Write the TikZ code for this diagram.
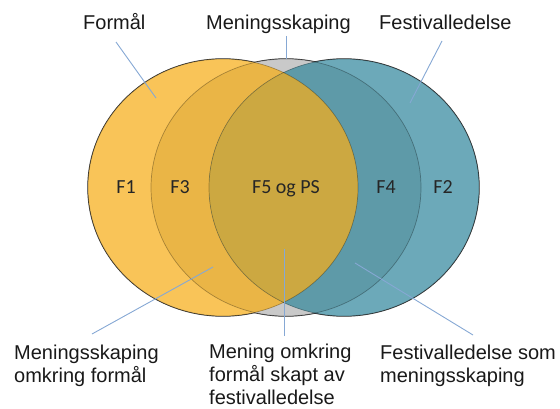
\documentclass[tikz,border=0pt]{standalone}
\usepackage{fontspec}
\setmainfont{Liberation Sans}
\newfontfamily\calfont{Carlito}
\definecolor{yel}{HTML}{F9C458}
\definecolor{fthree}{HTML}{EAB546}
\definecolor{ffive}{HTML}{CCA841}
\definecolor{ffour}{HTML}{5E9AA8}
\definecolor{tea}{HTML}{6CA9B9}
\definecolor{gry}{HTML}{C9C9C9}
\definecolor{leadc}{HTML}{86A8D4}
\begin{document}
\begin{tikzpicture}[x=1pt,y=1pt,
  lead/.style={draw=leadc, line width=0.9pt},
  lab/.style={font=\fontsize{20}{23}\selectfont, inner sep=0pt, anchor=base west, align=left, text=black!90},
  flab/.style={font=\calfont\fontsize{20}{24}\selectfont, inner sep=0pt, anchor=base, text=black!85}]
\useasboundingbox (0,0) rectangle (560,408);
\def\Ypath{(223,220.5) ellipse [x radius=135, y radius=128.5]}
\def\Gpath{(286,220.5) ellipse [x radius=135, y radius=128.5]}
\def\Tpath{(344,220.5) ellipse [x radius=135, y radius=128.5]}
% outer dark outline
\draw[black!80, line width=1.4pt] \Ypath;
\draw[black!80, line width=1.4pt] \Gpath;
\draw[black!80, line width=1.4pt] \Tpath;
% region fills
\fill[gry] \Gpath;
\fill[tea] \Tpath;
\fill[yel] \Ypath;
\begin{scope}
  \clip \Gpath;
  \fill[fthree] \Ypath;
  \fill[ffour] \Tpath;
\end{scope}
\begin{scope}
  \clip \Ypath;
  \fill[ffive] \Tpath;
\end{scope}
% inner outlines
\draw[black, opacity=0.3, line width=0.7pt] \Ypath;
\draw[black, opacity=0.3, line width=0.7pt] \Gpath;
\draw[black, opacity=0.3, line width=0.7pt] \Tpath;
% region labels
\node[flab] (f1) at (126,215) {F1};
\node[flab] (f3) at (180,215) {F3};
\node[flab] (f5) at (286,215) {F5 og PS};
\node[flab] (f4) at (386,215) {F4};
\node[flab] (f2) at (443,215) {F2};
% outside labels
\node[lab] (formal) at (83,378) {Formål};
\node[lab] (mening) at (206,378) {Meningsskaping};
\node[lab] (festival) at (379,378) {Festivalledelse};
\node[lab] (bl) at (14,26) {Meningsskaping\\omkring formål};
\node[lab] (bm) at (209,4) {Mening omkring\\formål skapt av\\festivalledelse};
\node[lab] (br) at (380,26) {Festivalledelse som\\meningsskaping};
% leader coordinates
\coordinate (formalA) at (116,366);
\coordinate (formalB) at (156,310);
\coordinate (meningA) at (286,372);
\coordinate (meningB) at (286,349);
\coordinate (festA) at (442,367);
\coordinate (festB) at (410,305);
\coordinate (blA) at (92,74);
\coordinate (blB) at (213,141);
\coordinate (bmA) at (284,72);
\coordinate (bmB) at (284,159);
\coordinate (brA) at (473,73);
\coordinate (brB) at (355,145);
\draw[lead] (formalA) -- (formalB);
\draw[lead] (meningA) -- (meningB);
\draw[lead] (festA) -- (festB);
\draw[lead] (blA) -- (blB);
\draw[lead] (bmA) -- (bmB);
\draw[lead] (brA) -- (brB);
\end{tikzpicture}
\end{document}
